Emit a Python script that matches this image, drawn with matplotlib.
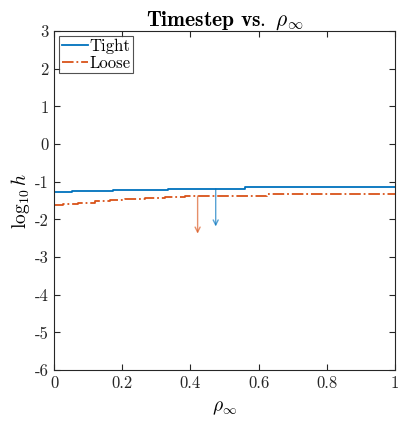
import matplotlib
matplotlib.use("Agg")
import matplotlib.pyplot as plt
import numpy as np

plt.rcParams['mathtext.fontset'] = 'cm'
plt.rcParams['font.family'] = ['cmr10', 'DejaVu Serif']
plt.rcParams['axes.unicode_minus'] = False

# Data (step functions: value holds from rho break to next break)
tight_rho = [0.0, 0.052, 0.174, 0.333, 0.56, 1.0]
tight_val = [-1.28, -1.255, -1.22, -1.185, -1.15, -1.15]
loose_rho = [0.0, 0.027, 0.071, 0.12, 0.164, 0.208, 0.267, 0.325, 0.384, 0.624, 1.0]
loose_val = [-1.61, -1.58, -1.56, -1.52, -1.49, -1.47, -1.44, -1.40, -1.37, -1.32, -1.32]

# Arrows: (rho, start, end)
arrow_tight = (0.474, -1.19, -2.19)
arrow_loose = (0.421, -1.38, -2.38)

xticks = [0, 0.2, 0.4, 0.6, 0.8, 1]
xticklabels = ['0', '0.2', '0.4', '0.6', '0.8', '1']
yticks = [-6, -5, -4, -3, -2, -1, 0, 1, 2, 3]
yticklabels = ['-6', '-5', '-4', '-3', '-2', '-1', '0', '1', '2', '3']

blue = '#0072BD'
orange = '#D95319'

fig = plt.figure(figsize=(4.04, 4.22), dpi=100)
ax = fig.add_axes([0.1337, 0.1232, 0.8443, 0.8033])

ax.step(tight_rho, tight_val, where='post', color=blue, lw=1.3, label='Tight')
ax.step(loose_rho, loose_val, where='post', color=orange, lw=1.3, ls='-.', label='Loose')

for (r, s, e), c in [(arrow_tight, blue), (arrow_loose, orange)]:
    ax.annotate('', xy=(r, e), xytext=(r, s),
                arrowprops=dict(arrowstyle='->', color=c, lw=1.0, alpha=0.65,
                                shrinkA=0, shrinkB=0, mutation_scale=9))

ax.set_xlim(0, 1)
ax.set_ylim(-6, 3)
ax.set_xticks(xticks)
ax.set_xticklabels(xticklabels)
ax.set_yticks(yticks)
ax.set_yticklabels(yticklabels)

spine_c = '#262626'
for sp in ax.spines.values():
    sp.set_color(spine_c)
    sp.set_linewidth(0.8)
ax.tick_params(direction='in', top=True, right=True, length=4, width=0.8,
               color=spine_c, labelsize=12, labelcolor='#262626', pad=4)

ax.set_xlabel(r'$\rho_\infty$', fontsize=14, labelpad=6)
ax.set_ylabel(r'$\log_{10} h$', fontsize=14, labelpad=2)
ax.set_title(r'$\mathbf{Timestep\ vs.}\ \rho_\infty$', fontsize=15.5, pad=4)

leg = ax.legend(loc='upper left', fontsize=12, frameon=True, fancybox=False,
                edgecolor='#262626', handlelength=1.6, handletextpad=0.1,
                borderpad=0.15, labelspacing=0.1, borderaxespad=0.3)
leg.get_frame().set_linewidth(0.8)

fig.savefig('out.png', dpi=100)
